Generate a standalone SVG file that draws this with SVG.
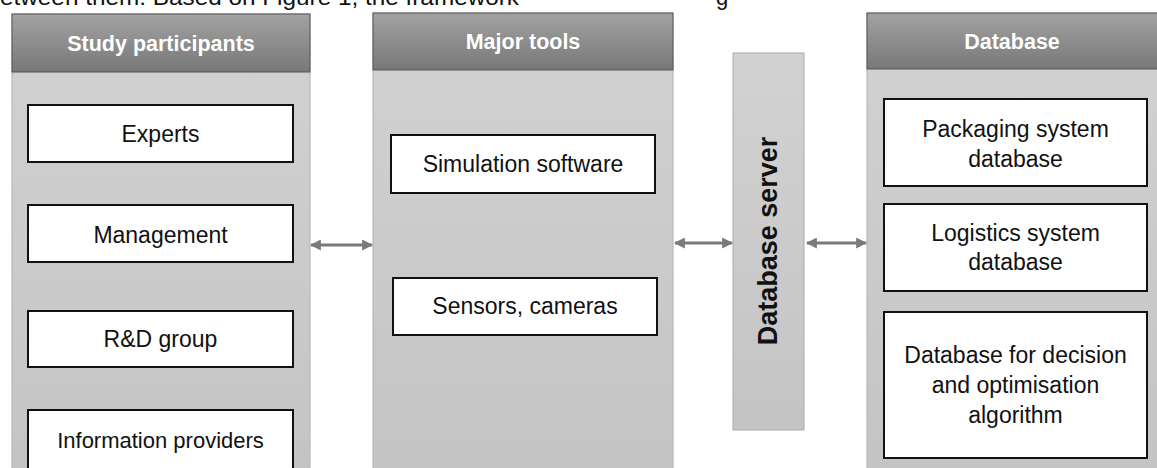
<svg xmlns="http://www.w3.org/2000/svg" width="1157" height="468" viewBox="0 0 1157 468">
<defs>
<linearGradient id="hdr" x1="0" y1="0" x2="0" y2="1">
<stop offset="0" stop-color="#a2a2a2"/>
<stop offset="1" stop-color="#787878"/>
</linearGradient>
<linearGradient id="body" x1="0" y1="0" x2="0" y2="1">
<stop offset="0" stop-color="#d2d2d2"/>
<stop offset="1" stop-color="#c4c4c4"/>
</linearGradient>
<marker id="ah" viewBox="0 0 10 10" refX="9" refY="5" markerWidth="11" markerHeight="11" markerUnits="userSpaceOnUse" orient="auto-start-reverse">
<path d="M0,0 L10,5 L0,10 z" fill="#7a7a7a"/>
</marker>
<style>
.panel{fill:url(#body);stroke:#b0b0b0;stroke-width:1}
.hdr{fill:url(#hdr);stroke:#555;stroke-width:1}
.hdrt{font-family:"Liberation Sans",Arial,sans-serif;font-weight:bold;font-size:21.5px;fill:#fff;text-anchor:middle}
.box{fill:#fff;stroke:#111;stroke-width:2}
.t{font-family:"Liberation Sans",Arial,sans-serif;font-size:23px;fill:#111;text-anchor:middle}
.conn{stroke:#7a7a7a;stroke-width:3;fill:none;marker-start:url(#ah);marker-end:url(#ah)}
.top{font-family:"Liberation Sans",Arial,sans-serif;font-size:22px;fill:#111}
</style>
</defs>
<rect width="1157" height="468" fill="#fff"/>
<text class="top" x="0" y="5" textLength="519" lengthAdjust="spacingAndGlyphs">etween them. Based on Figure 1, the framework</text>
<text class="top" x="716" y="5">g</text>

<g id="study-participants">
<rect class="panel" x="12" y="14" width="298" height="460"/>
<rect class="hdr" x="12" y="14" width="298" height="58"/>
<text class="hdrt" x="161" y="51">Study participants</text>
</g>
<g id="experts">
<rect class="box" x="28" y="105" width="265" height="57"/>
<text class="t" x="160.5" y="142">Experts</text>
</g>
<g id="management">
<rect class="box" x="28" y="205" width="265" height="57"/>
<text class="t" x="160.5" y="243">Management</text>
</g>
<g id="rd-group">
<rect class="box" x="28" y="311" width="265" height="56"/>
<text class="t" x="160.5" y="347">R&amp;D group</text>
</g>
<g id="information-providers">
<rect class="box" x="28" y="410" width="265" height="70"/>
<text class="t" x="160.5" y="448" style="font-size:22px">Information providers</text>
</g>

<g id="major-tools">
<rect class="panel" x="373" y="13" width="300" height="461"/>
<rect class="hdr" x="373" y="13" width="300" height="57"/>
<text class="hdrt" x="523" y="49">Major tools</text>
</g>
<g id="simulation-software">
<rect class="box" x="391" y="135" width="264" height="58"/>
<text class="t" x="523" y="172">Simulation software</text>
</g>
<g id="sensors-cameras">
<rect class="box" x="393" y="278" width="264" height="57"/>
<text class="t" x="525" y="314">Sensors, cameras</text>
</g>

<g id="database-server">
<rect x="733" y="53" width="71" height="377" fill="url(#body)" stroke="#aaa" stroke-width="1"/>
<text transform="translate(777,241) rotate(-90)" text-anchor="middle" font-family="Liberation Sans, Arial, sans-serif" font-weight="bold" font-size="27" fill="#111">Database server</text>
</g>

<g id="database">
<rect class="panel" x="867" y="13" width="295" height="461"/>
<rect class="hdr" x="867" y="13" width="295" height="56"/>
<text class="hdrt" x="1012" y="49">Database</text>
</g>
<g id="packaging-system-database">
<rect class="box" x="884" y="99" width="263" height="87"/>
<text class="t" x="1015.5" y="137">Packaging system</text>
<text class="t" x="1015.5" y="167">database</text>
</g>
<g id="logistics-system-database">
<rect class="box" x="884" y="204" width="263" height="87"/>
<text class="t" x="1015.5" y="241">Logistics system</text>
<text class="t" x="1015.5" y="270">database</text>
</g>
<g id="decision-optimisation-database">
<rect class="box" x="884" y="312" width="263" height="146"/>
<text class="t" x="1015.5" y="363">Database for decision</text>
<text class="t" x="1015.5" y="393">and optimisation</text>
<text class="t" x="1015.5" y="423">algorithm</text>
</g>

<g id="connectors">
<line class="conn" x1="311" y1="245" x2="372" y2="245"/>
<line class="conn" x1="675" y1="243" x2="732" y2="243"/>
<line class="conn" x1="807" y1="243" x2="866" y2="243"/>
</g>
</svg>
